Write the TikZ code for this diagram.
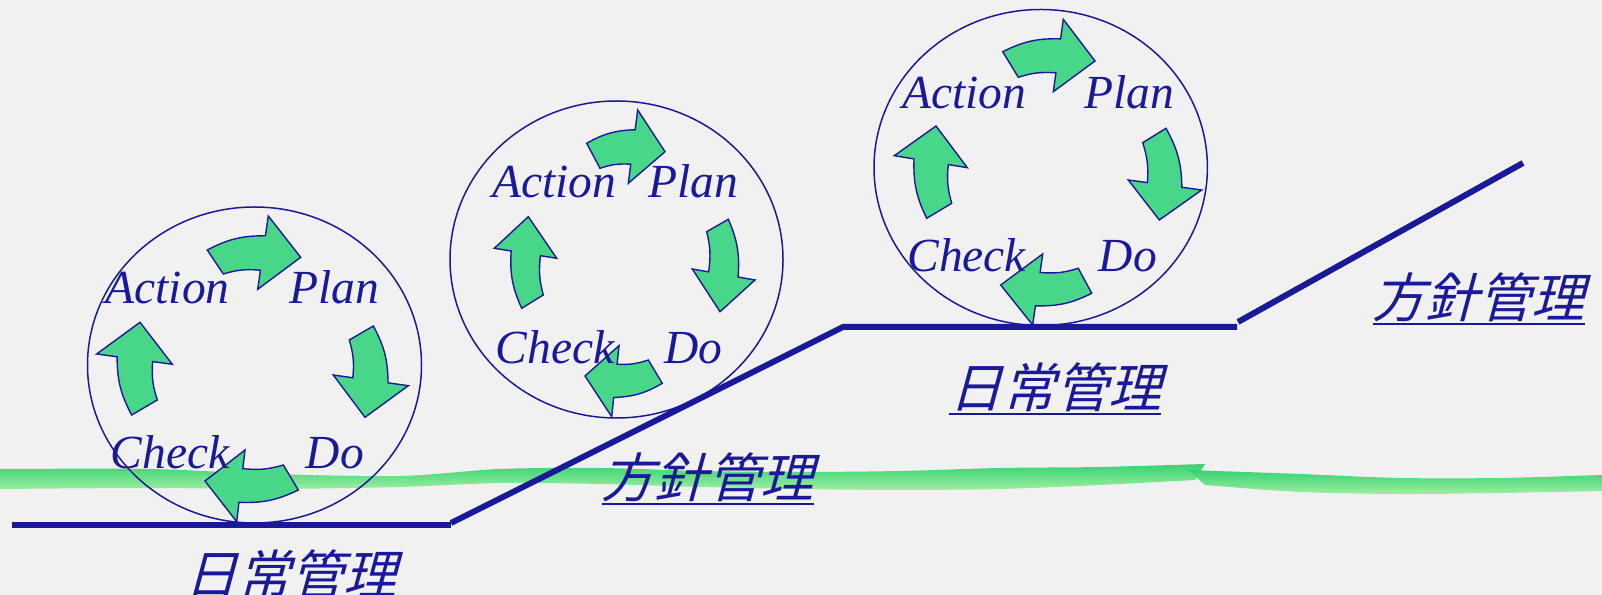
\documentclass[tikz,border=0pt]{standalone}
\usepackage{fontspec}
\newfontfamily\tnr{Liberation Serif}
\newfontfamily\cjk[FakeSlant=0.27]{Noto Sans CJK JP}
\usetikzlibrary{calc}
\definecolor{navy}{RGB}{26,26,152}
\definecolor{pdgreen}{RGB}{72,214,137}
\definecolor{bg}{RGB}{241,241,241}
\definecolor{stripetop}{RGB}{55,210,115}
\definecolor{stripebot}{RGB}{160,238,160}

% curved block arrow: outer tail, inner tail, outer head base, tip, inner head base (pixel coords, y down)
\newcommand\pdarrow[5]{%
  \begin{scope}[shift={(0,595)},yscale=-1]
    \coordinate (pa) at (#1);
    \coordinate (pb) at (#2);
    \coordinate (pc) at (#3);
    \coordinate (pd) at (#4);
    \coordinate (pe) at (#5);
  \end{scope}
  \draw[pdarrowstyle] (pa) to[bend left=14] ($(pc)!0.27!(pe)$) -- (pc) -- (pd) -- (pe)
     -- ($(pc)!0.74!(pe)$) to[bend right=11] (pb) -- cycle;
}

\begin{document}
\begin{tikzpicture}[x=1bp,y=1bp,
  pdarrowstyle/.style={draw=navy, line width=1.4bp, fill=pdgreen, line join=miter},
  ring/.style={draw=navy, line width=1.5bp},
  stair/.style={draw=navy, line width=6bp},
  pdtext/.style={font=\tnr\itshape\fontsize{47.5bp}{52bp}\selectfont, text=navy, anchor=base, inner sep=0pt},
  jptext/.style={font=\cjk\fontsize{53bp}{58bp}\selectfont, text=navy, anchor=base west, inner sep=0pt},
  uline/.style={draw=navy, line width=2.7bp}]
\useasboundingbox (0,0) rectangle (1602,595);
\fill[bg] (0,0) rectangle (1602,595);

% green brush stripe
\shade[top color=stripetop, bottom color=stripebot]
  plot[smooth] coordinates {(0,126) (150,126) (270,121) (400,119) (500,126) (600,127) (700,124) (800,123) (900,124) (1000,127) (1100,128) (1205,131)}
  -- plot[smooth] coordinates {(1195,115) (1100,110) (1000,106) (900,105) (800,106) (700,108) (600,111) (500,112) (400,108) (270,106) (150,107) (0,106)} -- cycle;
\shade[top color=stripetop, bottom color=stripebot]
  plot[smooth] coordinates {(1188,125) (1300,121) (1400,117) (1500,117) (1602,120)}
  -- plot[smooth] coordinates {(1602,104) (1500,102) (1400,101) (1300,103) (1205,110)} -- cycle;

% staircase lines
\coordinate (l0) at (12,70);
\coordinate (l1) at (451,70);
\coordinate (l1b) at (451,72);
\coordinate (l2) at (843,268);
\coordinate (l3) at (1237,268);
\coordinate (l3b) at (1238,273);
\coordinate (l4) at (1523,432);
\draw[stair] (l0) -- (l1);
\draw[stair] (l1b) -- (l2) -- (l3);
\draw[stair] (l3b) -- (l4);

% circles
\draw[ring] (254.5,230) ellipse[x radius=167, y radius=158];
\draw[ring] (616.5,335.5) ellipse[x radius=166.5, y radius=158.5];
\draw[ring] (1040.7,427.5) ellipse[x radius=166.7, y radius=158];

% arrows circle 1
\pdarrow{207.3,250}{223.3,274}{268.3,216}{300.7,257.3}{257.7,289.3}
\pdarrow{373.3,326}{349.3,340}{408.3,385.7}{365,417.3}{333.3,375}
\pdarrow{298.3,490}{283.3,465}{236.7,521.7}{205,481}{245,450}
\pdarrow{131.7,415}{157.3,400}{96.7,354}{140,322.3}{172.3,364.3}
% arrows circle 2
\pdarrow{586.7,143.3}{600,168.3}{637.7,110}{665,151.7}{628.3,183.3}
\pdarrow{728.3,219.3}{706.7,231.7}{755,280}{720,311.7}{692.3,269}
\pdarrow{662.3,383.3}{648.3,360}{611.7,416.7}{585,376}{619,345.7}
\pdarrow{521.7,308.3}{543.3,295}{494.3,248.3}{528.3,216.7}{556.7,258.3}
% arrows circle 3
\pdarrow{1002.7,51.7}{1018.3,77.3}{1063.3,19.3}{1095,61}{1053.3,91.7}
\pdarrow{1166,128.3}{1142.7,142.7}{1201.7,190}{1159.3,220}{1128.3,180}
\pdarrow{1091.7,293.3}{1078.3,268.3}{1032.7,325}{1000.7,285}{1042.7,254}
\pdarrow{926.7,218.3}{951.7,203.3}{894.3,155.7}{936,126}{967.3,167.7}

% PDCA labels
\node[pdtext] (a1) at (167.5,291) {Action};
\node[pdtext] (p1) at (334,291) {Plan};
\node[pdtext] (c1) at (170,126.7) {Check};
\node[pdtext] (d1) at (335,126.7) {Do};
\node[pdtext] (a2) at (554,397.3) {Action};
\node[pdtext] (p2) at (693,397.3) {Plan};
\node[pdtext] (c2) at (555,231.7) {Check};
\node[pdtext] (d2) at (693.5,231.7) {Do};
\node[pdtext] (a3) at (964,486.7) {Action};
\node[pdtext] (p3) at (1129,486.7) {Plan};
\node[pdtext] (c3) at (966.7,323.3) {Check};
\node[pdtext] (d3) at (1128,323.3) {Do};

% Japanese labels
\node[jptext] (j1) at (184,0.3) {日常管理};
\node[jptext] (j2) at (601.7,97) {方針管理};
\node[jptext] (j3) at (949,187) {日常管理};
\node[jptext] (j4) at (1372.7,277) {方針管理};
\foreach \j in {j1,j2,j3,j4}
  \draw[uline] ([yshift=-6bp]\j.base west) -- ([yshift=-6bp]\j.base east);
\end{tikzpicture}
\end{document}
